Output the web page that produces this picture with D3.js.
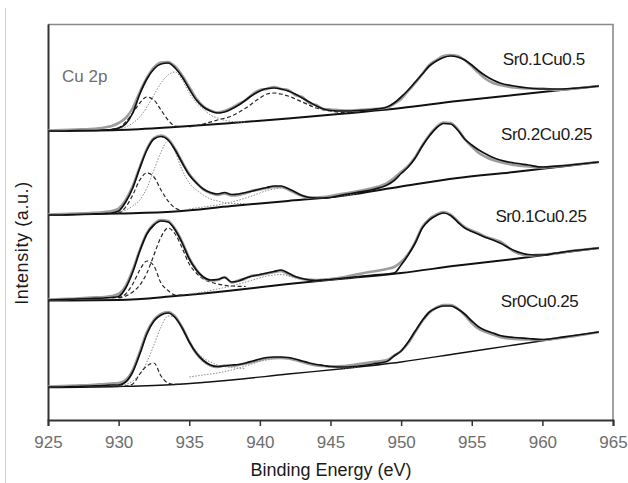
<!DOCTYPE html>
<html>
<head>
<meta charset="utf-8">
<script src="https://cdn.jsdelivr.net/npm/d3@7"></script>
<style>
  body { margin: 0; background: #fff; }
  svg { display: block; font-family: "Liberation Sans", Arial, sans-serif; }
</style>
</head>
<body>
<div id="chart"></div>
<script>
//*************************1. Data (intensity in a.u.)

// shared binding energy grid for envelopes and raw data
const energyGrid = [925, 926, 927, 928, 929, 929.5, 930, 930.5, 931, 931.5,
  932, 932.5, 933, 933.5, 934, 934.5, 935, 935.5, 936, 936.5,
  937, 937.5, 938, 938.5, 939, 939.5, 940, 940.5, 941, 941.5,
  942, 942.5, 943, 943.5, 944, 944.5, 945, 946, 947, 948,
  949, 949.5, 950, 950.5, 951, 951.5, 952, 952.5, 953, 953.5,
  954, 954.5, 955, 955.5, 956, 956.5, 957, 958, 959, 960,
  961, 962, 963, 964]

// background (Shirley) lines
const baseEnergy = [925, 930, 934, 938, 942, 946, 950, 954, 958, 962, 964]
const base1 = [289, 290, 293, 297, 301.5, 306.5, 312, 319, 325, 331, 334]
const base2 = [205, 206.5, 208.5, 214, 219, 224.5, 233.5, 242, 248, 254.5, 258]
const base3 = [119.5, 120, 124, 129.5, 136, 141.5, 147, 154.5, 161, 168.5, 172]
const base4 = [32.5, 33.5, 35.5, 40, 46, 51.5, 58, 66.5, 75, 83.5, 88]

// Sr0.1Cu0.5
const env1 = [289, 289, 289.5, 289.5, 290, 290.5, 292, 296, 307, 326,
  341, 351, 356, 357, 352, 343, 331, 320, 313, 309,
  307, 308, 311, 315, 320, 325, 329, 331.5, 332, 331,
  329, 326, 322, 318, 314, 311, 309.5, 309, 309.5, 310.5,
  313, 317, 323, 330, 338, 346, 354, 359, 362.5, 364,
  363, 360, 355, 349, 344, 340, 337, 334, 332, 331,
  331, 331.5, 332.5, 334]
const raw1 = [289.5, 290, 290.5, 291, 292.5, 294, 297, 302, 312, 328,
  342, 352.5, 357.5, 358, 353.5, 344.5, 333, 321.5, 313.5, 309.5,
  307.5, 309, 312, 316, 320, 326, 330, 331, 333, 331,
  330, 325, 323, 317, 315, 311, 310.5, 309.5, 310, 311,
  312.5, 316, 321, 329, 337, 346, 355, 360, 364, 365,
  364, 360, 354, 347, 341, 337, 335, 332.5, 331.5, 331.5,
  330, 331, 332.5, 334]

// Sr0.2Cu0.25
const env2 = [205, 205, 205.5, 206, 206.5, 207, 209, 218, 232, 252,
  270, 281, 283.5, 280, 270, 257, 245, 237, 231, 227.5,
  226, 227.5, 225.5, 226, 227.5, 229, 231, 232.5, 234, 234,
  231.5, 228, 224.5, 222.5, 222, 222, 222.5, 225.5, 227.8, 230.5,
  235, 239.5, 246.5, 253, 262, 274, 284, 292, 296.5, 296,
  290, 281, 275, 270, 266, 262.5, 260, 257, 255, 253,
  253.8, 255, 256.5, 258]
const raw2 = [205.5, 206, 206.5, 207, 208, 209, 211.5, 220, 234, 253,
  271, 282, 284.5, 281, 271, 258, 246, 237.5, 230.5, 227,
  225, 226.5, 224.5, 225, 227, 229.5, 230.5, 232, 233, 233,
  230.5, 227, 224, 222.5, 222.5, 223, 224, 226.5, 229, 232,
  237, 242, 248, 254, 263, 274.5, 285, 293, 297.5, 297,
  291, 281, 273.5, 267, 263, 260, 258, 255, 253.5, 252.5,
  253.5, 255, 256.5, 258]

// Sr0.1Cu0.25
const env3 = [120, 120.5, 121, 121.5, 122, 122.5, 123.5, 132, 148, 169,
  186, 195, 199, 198, 190, 177, 161, 150, 143, 140,
  140.5, 142.5, 138, 139, 142, 144, 145.5, 147, 148.5, 150,
  147, 143.5, 141.5, 140, 139.5, 140, 140.5, 142, 143.5, 145,
  146, 146.8, 155, 165, 177, 192, 200, 204.5, 207, 204.5,
  198, 192, 188.5, 185.5, 182.5, 180, 177, 169.5, 165.5, 165,
  167, 169, 170.5, 172]
const raw3 = [120.5, 121, 121.5, 122.5, 123, 124, 126, 134, 150, 170,
  187, 196, 200, 199, 191, 178, 162, 150.5, 142.5, 139.5,
  140, 143, 137.5, 139.5, 141.5, 144.5, 145, 146.5, 148, 149,
  146, 143, 141, 140.5, 140, 140.5, 141, 143, 146, 148.5,
  151, 153, 158, 166, 178, 193, 201, 205.5, 208, 205.5,
  199, 193, 189.5, 186.5, 183, 181, 178.5, 168.5, 164.5, 165.5,
  166.5, 169, 170.5, 172]

// Sr0Cu0.25
const env4 = [33, 33, 33.5, 34, 34.5, 35, 35, 38, 48, 66,
  86, 99, 105, 107, 102.5, 92, 78, 67, 59.5, 55,
  53.5, 54, 55, 55.5, 57, 59, 61, 62.5, 63, 63,
  62.5, 61, 59, 57, 55.5, 54.5, 53.5, 53, 54, 56,
  58.5, 64, 69, 78, 89, 99.5, 108, 112, 114, 114,
  111, 106, 99, 93, 89.5, 87, 84.5, 82.5, 81.5, 80.5,
  82, 84, 86, 88]
const raw4 = [33.5, 34, 34.5, 35, 36, 36.5, 37, 40, 50, 68,
  88, 100, 106, 108, 103.5, 92.5, 78.5, 66.5, 59, 54.5,
  53, 54.5, 54, 55, 56.5, 58, 60, 61.5, 62, 62,
  61.5, 60, 58, 56, 54.5, 54, 53.5, 54, 56, 58,
  60, 64.5, 69, 77, 88, 99, 107.5, 112.5, 115, 115,
  111.5, 105, 97, 91, 88, 85.5, 83, 81, 80.5, 80,
  81.5, 83.5, 85.5, 88]

// fitted components: low-BE shoulder, main 2p3/2 peak, shake-up satellite
const shoulderEnergy = [929.5, 930, 930.5, 931, 931.5, 932, 932.5, 933, 933.5, 934, 934.5]
const shoulder1 = [290.5, 292, 298, 307, 317, 323, 320, 310, 300, 294, 293.5]
const shoulder2 = [206.8, 207, 213, 225, 240, 247, 243, 230, 219, 212, 209.5]
const shoulder3 = [122.3, 122.5, 126, 136, 150, 159, 154, 137, 129.5, 125, 124.8]
const shoulder4 = [33.6, 33.8, 34, 36, 46, 54, 57, 44, 37, 35.6, 36]

const mainEnergy = [930, 930.5, 931, 931.5, 932, 932.5, 933, 933.5, 934, 934.5, 935, 935.5, 936, 936.5, 937, 938, 939]
const main1 = [291, 293, 297, 303, 313, 325, 337, 345, 348, 340, 327, 317, 311, 305, 302, 298.5, 298]
const main2 = [208, 210, 214, 220, 232, 250, 268, 279, 268, 250, 237, 230, 225, 221, 219, 216.5, 216.5]
const main3 = [122, 124, 128, 135, 147, 165, 183, 192, 186, 172, 156, 147, 141, 138, 136, 134, 133.5]
const main4 = [34, 35.5, 39, 46, 58, 75, 93, 104, 103, 92, 78, 69, 62, 58, 55, 52.5, 51.5]

const satEnergy = [935, 936, 937, 938, 939, 940, 940.5, 941, 941.5, 942, 943, 944, 945, 946, 947]
const sat1 = [293, 296, 300, 304, 312, 322, 326, 327, 326, 324, 318, 312, 309, 307.5, 308]
const sat2 = [211, 213, 215, 218, 222, 227, 229.5, 231, 232, 230.5, 225, 222, 223, 224.6, 226.8]
const sat3 = [126, 128, 131, 134, 138, 142, 144, 145, 145.5, 144, 140.5, 139.2, 140.2, 141.6, 143]
const sat4 = [43, 45, 47, 50, 54, 58.5, 60, 61, 61.5, 61, 58, 55, 53, 52, 53.2]

// sample names and where they sit (energy, a.u.)
const sampleNames = ["Sr0.1Cu0.5", "Sr0.2Cu0.25", "Sr0.1Cu0.25", "Sr0Cu0.25"]
const labelEnergy = [960.1, 960.3, 959.9, 959.8]
const labelIntensity = [355, 280, 198, 113.5]

const xTicks = [925, 930, 935, 940, 945, 950, 955, 960, 965]

function draw() {

//*************************2. Dimensions

  const width = 628
  const height = 483
  const margin = {top: 24, right: 15, bottom: 63, left: 48}
  const innerW = width - margin.left - margin.right
  const innerH = height - margin.top - margin.bottom

  const svg = d3.select("#chart").append("svg")
    .attr("width", width)
    .attr("height", height)

  // thin page edge on the far left
  svg.append("line")
    .attr("x1", 5.5).attr("x2", 5.5)
    .attr("y1", 8).attr("y2", height)
    .attr("stroke", "#d4d4d4")
    .attr("stroke-width", 1)

  const bounds = svg.append("g")
    .attr("transform", `translate(${margin.left},${margin.top})`)

//*************************3. Scales

  const x = d3.scaleLinear().domain([925, 965]).range([0, innerW])
  const y = d3.scaleLinear().domain([0, 396]).range([innerH, 0])

  const line = d3.line()
    .x(d => x(d[0]))
    .y(d => y(d[1]))
    .curve(d3.curveMonotoneX)

//*************************4. Frame & axes

  // top and right frame
  bounds.append("path")
    .attr("d", `M0,0.5H${innerW}V${innerH}`)
    .attr("fill", "none")
    .attr("stroke", "#8a8a8a")
    .attr("stroke-width", 1.6)

  const xAxis = bounds.append("g")
    .attr("transform", `translate(0,${innerH})`)
    .call(d3.axisBottom(x).tickValues(xTicks).tickSize(6).tickPadding(10).tickFormat(d3.format("d")))
  xAxis.select(".domain").attr("stroke", "#333").attr("stroke-width", 2)
  xAxis.selectAll(".tick line").attr("stroke", "#333").attr("stroke-width", 1.5)
  xAxis.selectAll(".tick text")
    .attr("fill", "#6e6e6e")
    .style("font-size", "17px")
    .style("font-family", "'Liberation Sans', Arial, sans-serif")

  const yAxis = bounds.append("g")
    .call(d3.axisLeft(y).tickValues([]).tickSizeOuter(0))
  yAxis.select(".domain").attr("stroke", "#333").attr("stroke-width", 2)

//*************************5. Spectra

  const spectra = [
    {base: base1, env: env1, raw: raw1, sh: shoulder1, main: main1, sat: sat1, mainDash: false, satDash: true, baseW: 2},
    {base: base2, env: env2, raw: raw2, sh: shoulder2, main: main2, sat: sat2, mainDash: false, satDash: false, baseW: 2},
    {base: base3, env: env3, raw: raw3, sh: shoulder3, main: main3, sat: sat3, mainDash: true, satDash: false, baseW: 2},
    {base: base4, env: env4, raw: raw4, sh: shoulder4, main: main4, sat: sat4, mainDash: false, satDash: false, baseW: 1.3}
  ]

  const dashed = sel => sel.attr("stroke", "#262626").attr("stroke-width", 1.2).attr("stroke-dasharray", "4 2.5")
  const dotted = sel => sel.attr("stroke", "#8c8c8c").attr("stroke-width", 1).attr("stroke-dasharray", "1.5 1.5")

  const groups = bounds.selectAll(".spectrum")
    .data(spectra)
    .join("g")
    .attr("class", "spectrum")
    .attr("fill", "none")

  groups.append("path")
    .attr("d", d => line(d3.zip(baseEnergy, d.base)))
    .attr("stroke", "#111")
    .attr("stroke-width", d => d.baseW)

  groups.append("path")
    .attr("d", d => line(d3.zip(satEnergy, d.sat)))
    .each(function(d) { d3.select(this).call(d.satDash ? dashed : dotted) })

  groups.append("path")
    .attr("d", d => line(d3.zip(mainEnergy, d.main)))
    .each(function(d) { d3.select(this).call(d.mainDash ? dashed : dotted) })

  groups.append("path")
    .attr("d", d => line(d3.zip(shoulderEnergy, d.sh)))
    .call(dashed)

  // measured data (grey) under the fitted envelope (black)
  groups.append("path")
    .attr("d", d => line(d3.zip(energyGrid, d.raw)))
    .attr("stroke", "#9d9d9d")
    .attr("stroke-width", 2.6)

  groups.append("path")
    .attr("d", d => line(d3.zip(energyGrid, d.env)))
    .attr("stroke", "#111")
    .attr("stroke-width", 1.7)

//*************************6. Labels

  bounds.selectAll(".sample")
    .data(sampleNames)
    .join("text")
    .attr("class", "sample")
    .attr("x", (d, i) => x(labelEnergy[i]))
    .attr("y", (d, i) => y(labelIntensity[i]))
    .attr("text-anchor", "middle")
    .attr("fill", "#1a1a1a")
    .style("font-size", "17px")
    .style("letter-spacing", "-0.4px")
    .text(d => d)

  bounds.append("text")
    .attr("x", 14)
    .attr("y", 58)
    .attr("fill", "#6e6e6e")
    .style("font-size", "17px")
    .text("Cu 2p")

  svg.append("text")
    .attr("x", 331)
    .attr("y", 476)
    .attr("text-anchor", "middle")
    .attr("fill", "#1a1a1a")
    .style("font-size", "18px")
    .text("Binding Energy (eV)")

  svg.append("text")
    .attr("transform", "translate(28,243) rotate(-90)")
    .attr("text-anchor", "middle")
    .attr("fill", "#1a1a1a")
    .style("font-size", "18px")
    .style("letter-spacing", "0.6px")
    .text("Intensity (a.u.)")
}

draw()
</script>
</body>
</html>
